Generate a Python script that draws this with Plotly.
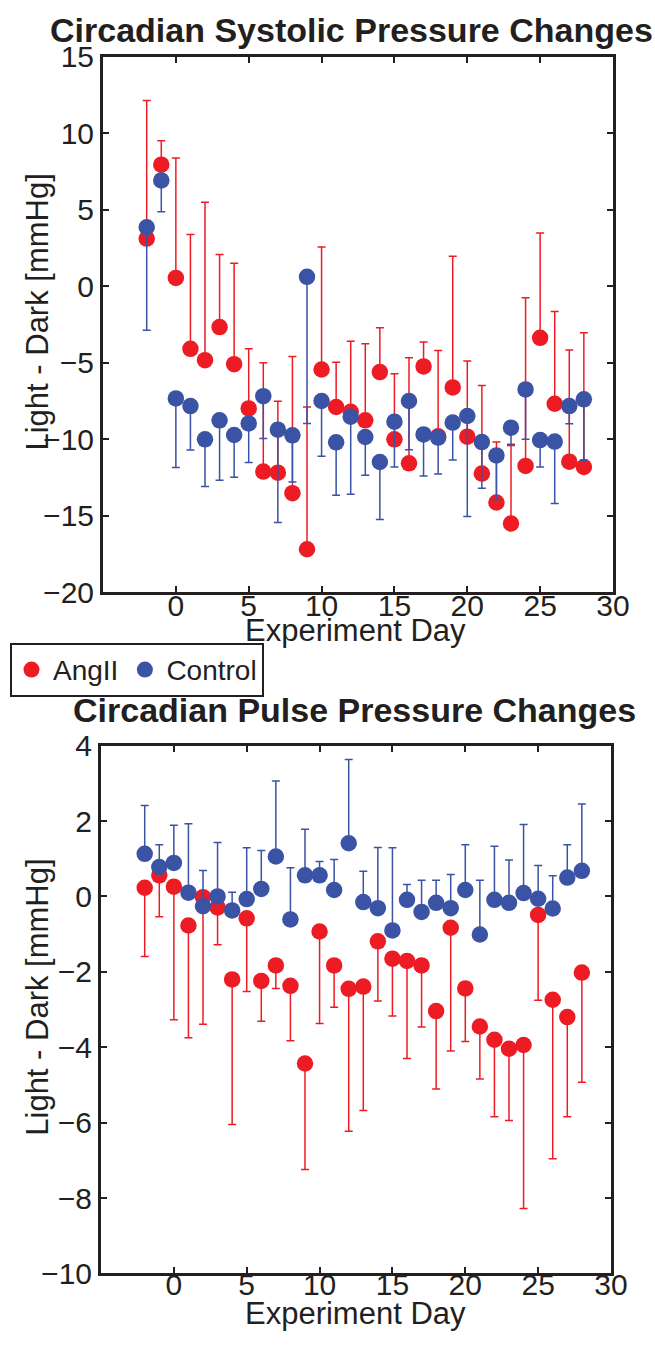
import numpy as np
import plotly.graph_objects as go

# The photographed page is ~672 css px wide, scaled down to 655 and centred vertically.
S = 0.9747          # picture px per css px
OY = 16.5           # vertical letterbox offset in the picture
W, H = 672, 1346

# layout anchors: reference picture y -> target picture y (squeezed to fit the letterbox)
REF_Y = [20, 55, 593, 751, 1287, 1330]
TGT_Y = [30, 57, 592, 745, 1272, 1312]

days = list(range(-2, 29))

# Systolic (top chart)
sys_ang_mean = [3.11, 7.94, 0.54, -4.09, -4.83, -2.67, -5.09, -7.98, -12.11, -12.18, -13.52,
                -17.18, -5.44, -7.89, -8.2, -8.76, -5.61, -10.0, -11.57, -5.24, -9.8,
                -6.61, -9.83, -12.24, -14.13, -15.5, -11.74, -3.37, -7.68, -11.46, -11.81]
sys_ang_upper = [12.13, 9.5, 8.37, 3.37, 5.48, 2.07, 1.5, -4.09, -5.0, -7.52, -4.59,
                 -7.89, 2.56, -4.96, -3.59, -3.76, -2.72, -5.72, -4.68, -3.65, -4.2,
                 1.96, -4.89, -6.48, -10.18, -10.33, -0.76, 3.48, -1.65, -4.17, -3.04]
sys_ctl_mean = [3.85, 6.91, -7.33, -7.83, -10.0, -8.76, -9.72, -8.96, -7.18, -9.37, -9.74,
                0.61, -7.5, -10.2, -8.52, -9.85, -11.48, -8.85, -7.5, -9.68, -9.89,
                -8.91, -8.48, -10.18, -11.05, -9.24, -6.74, -10.05, -10.15, -7.83, -7.39]
sys_ctl_lower = [-2.87, 4.87, -11.85, -10.7, -13.09, -12.68, -12.48, -11.52, -9.94, -15.44, -12.79,
                 -8.96, -11.11, -13.66, -13.59, -12.35, -15.24, -11.81, -10.68, -12.4, -12.27,
                 -11.35, -15.05, -13.2, -13.94, -10.4, -10.0, -11.81, -14.2, -8.98, -11.37]

# Pulse (bottom chart)
pul_ctl_mean = [1.13, 0.78, 0.89, 0.1, -0.26, 0.0, -0.37, -0.07, 0.2, 1.06, -0.61,
                0.56, 0.56, 0.17, 1.41, -0.15, -0.31, -0.9, -0.09, -0.41, -0.17,
                -0.31, 0.17, -1.01, -0.09, -0.17, 0.09, -0.06, -0.32, 0.5, 0.68]
pul_ctl_upper = [2.41, 1.37, 1.89, 1.93, 0.69, 1.43, 0.11, 1.29, 1.22, 3.06, 0.76,
                 1.78, 0.93, 0.98, 3.63, 0.67, 1.3, 1.29, 0.32, 0.43, 0.43,
                 0.58, 1.37, 0.43, 1.33, 0.97, 1.91, 0.82, 0.55, 1.37, 2.45]
pul_ang_mean = [0.23, 0.56, 0.26, -0.77, -0.02, -0.29, -2.2, -0.58, -2.24, -1.83, -2.37,
                -4.43, -0.93, -1.83, -2.45, -2.39, -1.19, -1.65, -1.71, -1.83, -3.04,
                -0.83, -2.44, -3.45, -3.8, -4.04, -3.94, -0.49, -2.74, -3.2, -2.02]
pul_ang_lower = [-1.59, -0.54, -3.27, -3.75, -3.39, -1.28, -6.05, -2.52, -3.31, -2.44, -3.83,
                 -7.24, -3.37, -2.94, -6.23, -5.68, -2.77, -3.17, -4.3, -3.46, -5.11,
                 -4.1, -3.85, -4.84, -5.84, -5.94, -8.28, -2.75, -6.96, -5.84, -4.93]

x_ticks = [0, 5, 10, 15, 20, 25, 30]
sys_yticks = [-20, -15, -10, -5, 0, 5, 10, 15]
pul_yticks = [-10, -8, -6, -4, -2, 0, 2, 4]

RED = "#ED1C24"
BLUE = "#3A53A4"
INK = "#231F20"
FONT = "Liberation Sans, Arial, sans-serif"
MS = 16.5


def up(vals, tops):
    return [t - v for v, t in zip(vals, tops)]


def down(vals, lows):
    return [v - l for v, l in zip(vals, lows)]


zeros = [0] * len(days)

fig = go.Figure()

fig.add_trace(go.Scatter(
    x=days, y=sys_ang_mean, mode="markers", name="AngII",
    marker=dict(color=RED, size=MS, line=dict(width=0)),
    error_y=dict(type="data", symmetric=False, array=up(sys_ang_mean, sys_ang_upper),
                 arrayminus=zeros, color=RED, thickness=1.5, width=4),
    xaxis="x", yaxis="y", legendgroup="a", showlegend=True))
fig.add_trace(go.Scatter(
    x=days, y=sys_ctl_mean, mode="markers", name="Control",
    marker=dict(color=BLUE, size=MS, line=dict(width=0)),
    error_y=dict(type="data", symmetric=False, array=zeros,
                 arrayminus=down(sys_ctl_mean, sys_ctl_lower), color=BLUE, thickness=1.5, width=4),
    xaxis="x", yaxis="y", legendgroup="c", showlegend=True))

fig.add_trace(go.Scatter(
    x=days, y=pul_ang_mean, mode="markers", name="AngII",
    marker=dict(color=RED, size=MS, line=dict(width=0)),
    error_y=dict(type="data", symmetric=False, array=zeros,
                 arrayminus=down(pul_ang_mean, pul_ang_lower), color=RED, thickness=1.5, width=4),
    xaxis="x2", yaxis="y2", legendgroup="a", showlegend=False))
fig.add_trace(go.Scatter(
    x=days, y=pul_ctl_mean, mode="markers", name="Control",
    marker=dict(color=BLUE, size=MS, line=dict(width=0)),
    error_y=dict(type="data", symmetric=False, array=up(pul_ctl_mean, pul_ctl_upper),
                 arrayminus=zeros, color=BLUE, thickness=1.5, width=4),
    xaxis="x2", yaxis="y2", legendgroup="c", showlegend=False))

axis_common = dict(showline=True, linewidth=3, linecolor=INK, mirror="ticks",
                   ticks="inside", ticklen=6, tickwidth=2, tickcolor=INK,
                   showgrid=False, zeroline=False,
                   tickfont=dict(family=FONT, size=30, color=INK))


def px(r):  # target picture x -> paper fraction
    return (r / S) / W


def py(r):  # reference picture y -> paper fraction
    rr = float(np.interp(r, REF_Y, TGT_Y))
    return 1 - ((rr - OY) / S) / H


fig.update_layout(
    width=W, height=H,
    margin=dict(l=0, r=0, t=0, b=0),
    paper_bgcolor="white", plot_bgcolor="white",
    font=dict(family=FONT, color=INK),
    xaxis=dict(domain=[px(103), px(613)], range=[-5, 30], tickvals=x_ticks,
               anchor="y", ticklabelstandoff=-15, **axis_common),
    yaxis=dict(domain=[py(593), py(55)], range=[-20, 15], tickvals=sys_yticks,
               anchor="x", **axis_common),
    xaxis2=dict(domain=[px(101), px(611)], range=[-5, 30], tickvals=x_ticks,
                anchor="y2", ticklabelstandoff=-17, **axis_common),
    yaxis2=dict(domain=[py(1287), py(751)], range=[-10, 4], tickvals=pul_yticks,
                anchor="x2", **axis_common),
    legend=dict(x=px(10), y=py(645), xanchor="left", yanchor="top",
                orientation="h", bordercolor=INK, borderwidth=2, bgcolor="white",
                itemwidth=33,
                font=dict(family=FONT, size=28, color=INK)),
    showlegend=True,
)

ann = []
ann.append(dict(text="<b>Circadian Systolic Pressure Changes</b>", x=px(351), y=py(20),
                xref="paper", yref="paper", showarrow=False, xanchor="center", yanchor="middle",
                font=dict(family=FONT, size=34, color=INK)))
ann.append(dict(text="<b>Circadian Pulse Pressure Changes</b>", x=px(354), y=py(714),
                xref="paper", yref="paper", showarrow=False, xanchor="center", yanchor="middle",
                font=dict(family=FONT, size=34, color=INK)))
for yc in (632, 1330):
    ann.append(dict(text="Experiment Day", x=px(355), y=py(yc), xref="paper", yref="paper",
                    showarrow=False, xanchor="center", yanchor="middle",
                    font=dict(family=FONT, size=31, color=INK)))
for yc in (312, 1007):
    ann.append(dict(text="Light - Dark [mmHg]", x=px(38), y=py(yc), xref="paper", yref="paper",
                    showarrow=False, xanchor="center", yanchor="middle", textangle=-90,
                    font=dict(family=FONT, size=31, color=INK)))
fig.update_layout(annotations=ann)

fig.write_html(
    "out.html",
    config={"displayModeBar": False},
    post_script="document.documentElement.style.margin='0';document.body.style.margin='0';"
                "document.documentElement.style.overflow='hidden';document.body.style.overflow='hidden';",
)
